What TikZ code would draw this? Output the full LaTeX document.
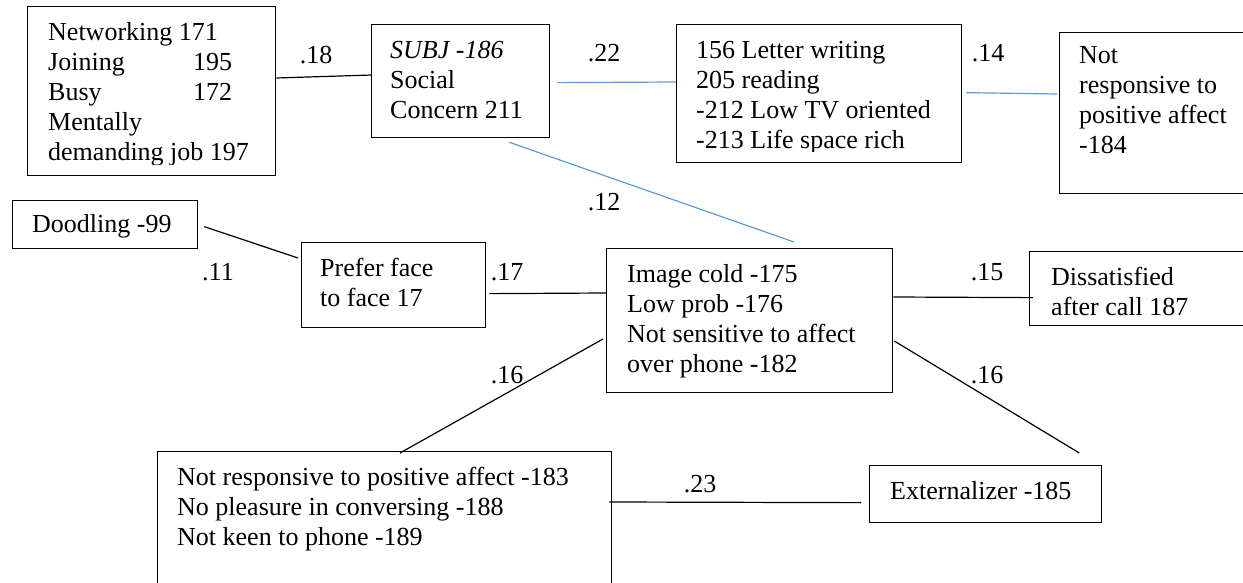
\documentclass[tikz,border=0pt]{standalone}
\usepackage{fontspec}
\setmainfont{Liberation Serif}
\usetikzlibrary{calc}
\definecolor{linkblue}{RGB}{91,155,213}
\tikzset{
  box/.style={draw, line width=1.3pt, inner sep=0pt, anchor=north west},
  boxtext/.style={anchor=north west, inner sep=0pt, align=left},
  link/.style={line width=1.2pt},
  bluelink/.style={line width=1.2pt, draw=linkblue},
  weight/.style={inner sep=0pt},
}
\begin{document}
\begin{tikzpicture}[x=1pt,y=-1pt,font=\fontsize{26}{30}\selectfont]
\useasboundingbox (0,0) rectangle (1243,583);
\clip (0,0) rectangle (1243,583);

% boxes
\node[box, minimum width=248, minimum height=169] (net)  at (27,6)    {};
\node[box, minimum width=178, minimum height=113] (subj) at (371,24)  {};
\node[box, minimum width=285, minimum height=138] (lett) at (676,24)  {};
\node[box, minimum width=211, minimum height=161] (npa)  at (1059,32) {};
\node[box, minimum width=185, minimum height=48]  (dood) at (12,200)  {};
\node[box, minimum width=184, minimum height=85]  (pref) at (301,242) {};
\node[box, minimum width=286, minimum height=144] (img)  at (606,248) {};
\node[box, minimum width=240, minimum height=74]  (diss) at (1029,251){};
\node[box, minimum width=454, minimum height=160] (nrp)  at (157,451) {};
\node[box, minimum width=232, minimum height=57]  (ext)  at (869,465) {};

% box texts (the two full boxes cut their last line at the inner margin)
\begin{scope}
  \clip (net.north west) rectangle ($(net.south east)+(0,-12)$);
  \node[boxtext] at ($(net.north west)+(21,13)$)
    {\strut Networking 171\\ \makebox[145pt][l]{Joining}195\\
     \makebox[145pt][l]{Busy}172\\ Mentally\\ demanding job 197};
\end{scope}
\node[boxtext] at ($(subj.north west)+(19,13)$)
  {\strut\textit{SUBJ -186}\\ Social\\ Concern 211};
\begin{scope}
  \clip (lett.north west) rectangle ($(lett.south east)+(0,-12)$);
  \node[boxtext] at ($(lett.north west)+(20,13)$)
    {\strut 156 Letter writing\\ 205 reading\\ -212 Low TV oriented\\ -213 Life space rich};
\end{scope}
\node[boxtext] at ($(npa.north west)+(20,10)$)
  {\strut Not\\ responsive to\\ positive affect\\ -184};
\node[boxtext] at ($(dood.north west)+(20,11)$) {\strut Doodling -99};
\node[boxtext] at ($(pref.north west)+(19,13)$) {\strut Prefer face\\ to face 17};
\node[boxtext] at ($(img.north west)+(21,13)$)
  {\strut Image cold -175\\ Low prob -176\\ Not sensitive to affect\\ over phone -182};
\node[boxtext] at ($(diss.north west)+(22,13)$) {\strut Dissatisfied\\ after call 187};
\node[boxtext] at ($(nrp.north west)+(20,13)$)
  {\strut Not responsive to positive affect -183\\ No pleasure in conversing -188\\ Not keen to phone -189};
\node[boxtext] at ($(ext.north west)+(21,13)$) {\strut Externalizer -185};

% connectors
\draw[link] ($(net.north east)+(0,72)$) -- ($(subj.north west)+(1,51)$);
\draw[bluelink] ($(subj.east)+(7,1.5)$) -- ($(lett.north west)+(0,58)$);
\draw[bluelink] ($(lett.east)+(4,-1)$) -- ($(npa.north west)+(-2,62)$);
\draw[bluelink] ($(subj.south east)+(-41,4)$) -- ($(img.north west)+(188,-6)$);
\draw[link] ($(dood.east)+(6,2)$) -- ($(pref.north west)+(-3,16)$);
\draw[link] ($(pref.east)+(3,8.5)$) -- ($(img.north west)+(0,45)$);
\draw[link] ($(img.north east)+(0,49)$) -- ($(diss.west)+(4,9)$);
\draw[link] ($(img.north east)+(1,93)$) -- ($(ext.north east)+(-23,-12)$);
\draw[link] ($(nrp.north west)+(243,2)$) -- ($(img.north west)+(-3,91)$);
\draw[link] ($(nrp.north east)+(-3,51)$) -- ($(ext.west)+(-8,8.5)$);

% path weights
\node[weight] (w18) at (316,55)  {.18};
\node[weight] (w22) at (604,53)  {.22};
\node[weight] (w14) at (988,53)  {.14};
\node[weight] (w12) at (604,202) {.12};
\node[weight] (w11) at (218,272) {.11};
\node[weight] (w17) at (507,272) {.17};
\node[weight] (w15) at (987,272) {.15};
\node[weight] (w16a) at (507,375) {.16};
\node[weight] (w16b) at (987,375) {.16};
\node[weight] (w23) at (700,484) {.23};
\end{tikzpicture}
\end{document}
